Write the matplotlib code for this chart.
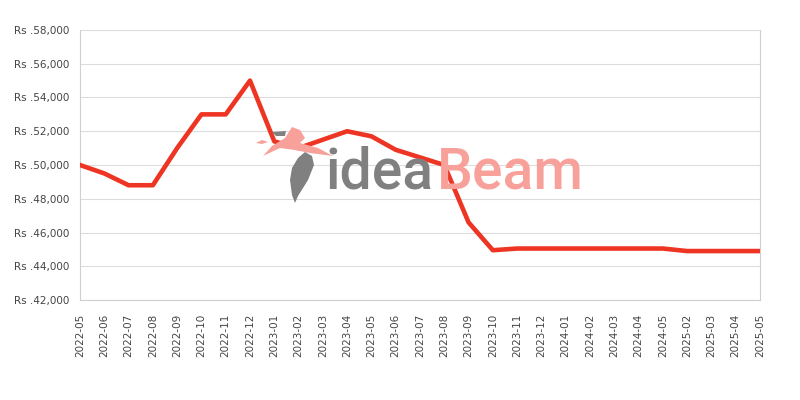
import matplotlib
matplotlib.use("Agg")
import matplotlib.pyplot as plt
import matplotlib.transforms as mtransforms
from matplotlib.ticker import FuncFormatter, MultipleLocator
from matplotlib.patches import Polygon

months = ["2022-05", "2022-06", "2022-07", "2022-08", "2022-09", "2022-10", "2022-11",
          "2022-12", "2023-01", "2023-02", "2023-03", "2023-04", "2023-05", "2023-06",
          "2023-07", "2023-08", "2023-09", "2023-10", "2023-11", "2023-12", "2024-01",
          "2024-02", "2024-03", "2024-04", "2024-05", "2025-02", "2025-03", "2025-04",
          "2025-05"]
prices = [49999, 49500, 48800, 48800, 51000, 53000, 53000,
          55000, 51400, 51000, 51500, 52000, 51700, 50900,
          50450, 49999, 46600, 44950, 45050, 45050, 45050,
          45050, 45050, 45050, 45050, 44900, 44900, 44900,
          44900]

W, H = 800, 400
fig = plt.figure(figsize=(8, 4), dpi=100)
ax = fig.add_axes([80 / W, 1 - 300 / H, 680 / W, 270 / H])

# watermark (decoration, pixel-based layout)
px = mtransforms.Affine2D().scale(1 / W, -1 / H).translate(0, 1) + fig.transFigure
fig.text(434 / W, 1 - 189 / H, "idea", fontsize=41, color="#808080", ha="right",
         va="baseline", family="Roboto", fontweight="medium", zorder=0)
fig.text(437 / W, 1 - 189 / H, "Beam", fontsize=41, color="#F8A09A", ha="left",
         va="baseline", family="Roboto", fontweight="medium", zorder=0)
shapes = [
    ([(263, 156), (272, 146), (285, 138), (292, 127), (300, 130), (305, 138),
      (300, 143), (318, 148), (333, 156), (310, 153), (295, 150), (280, 148)], "#F8A09A"),
    ([(305, 152), (312, 156), (314, 165), (308, 180), (298, 196), (295, 203),
      (292, 195), (290, 180), (292, 168), (298, 158)], "#808080"),
    ([(272, 132), (286, 131), (285, 136), (276, 136)], "#808080"),
    ([(256, 143), (262, 140), (268, 142), (262, 144)], "#F8A09A"),
]
for pts, c in shapes:
    fig.patches.append(Polygon(pts, closed=True, color=c, transform=px, zorder=0, lw=0))

x = list(range(len(months)))
ax.plot(x, prices, color="#EE3524", linewidth=3.3, zorder=3)

ax.set_xlim(0, len(months) - 1)
ax.set_ylim(42000, 58000)
ax.yaxis.set_major_locator(MultipleLocator(2000))
ax.yaxis.set_major_formatter(FuncFormatter(lambda v, p: "Rs .{:,.0f}".format(v)))
ax.set_xticks(x)
ax.set_xticklabels(months, rotation=90)
ax.grid(axis="y", color="#DDDDDD", linewidth=0.8)
ax.set_axisbelow(True)
ax.patch.set_alpha(0)
for s in ["left", "right", "bottom"]:
    ax.spines[s].set_color("#D0D0D0")
    ax.spines[s].set_linewidth(0.8)
ax.spines["top"].set_visible(False)
ax.tick_params(axis="both", length=0, labelsize=7.5, colors="#444444")
ax.tick_params(axis="y", pad=8)
ax.tick_params(axis="x", pad=10)

fig.savefig("out.png", dpi=100)
